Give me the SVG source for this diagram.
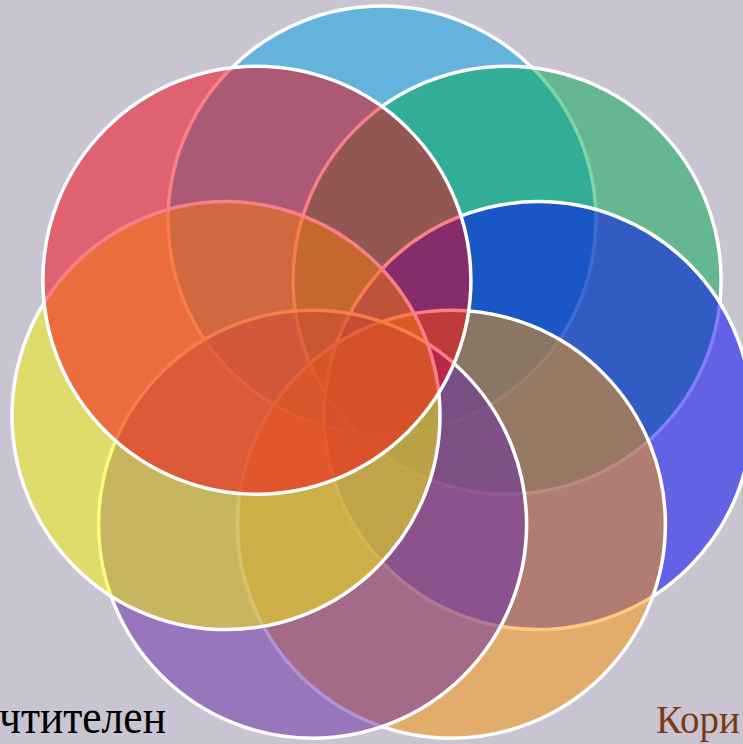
<svg xmlns="http://www.w3.org/2000/svg" width="743" height="744" viewBox="0 0 743 744">
  <style>
    .c { fill-opacity: 0.5; stroke: #ffffff; stroke-width: 3.5; }
    .t { font-family: "Liberation Serif", "Times New Roman", serif; }
  </style>
  <rect x="0" y="0" width="743" height="744" fill="#c9c4d1"/>
  <g id="circle-lightblue"><circle class="c" cx="382" cy="220" r="214" fill="#00a2e9"/></g>
  <g id="circle-green"><circle class="c" cx="507.1" cy="280.2" r="214" fill="#00aa51"/></g>
  <g id="circle-blue"><circle class="c" cx="538" cy="415.6" r="214" fill="#0000f7"/></g>
  <g id="circle-orange"><circle class="c" cx="451.4" cy="524.2" r="214" fill="#fb9603"/></g>
  <g id="circle-purple"><circle class="c" cx="312.6" cy="524.2" r="214" fill="#6528a5"/></g>
  <g id="circle-yellow"><circle class="c" cx="226" cy="415.6" r="214" fill="#f7f405"/></g>
  <g id="circle-red"><circle class="c" cx="256.9" cy="280.2" r="214" fill="#f3000f"/></g>
  <g id="connectors"></g>
  <g id="label-left"><text class="t" x="-1" y="733" font-size="49" textLength="167" lengthAdjust="spacingAndGlyphs" fill="#000000">чтителен</text></g>
  <g id="label-right"><text class="t" x="656" y="733" font-size="39" fill="#7a3a14">Кори</text></g>
</svg>
